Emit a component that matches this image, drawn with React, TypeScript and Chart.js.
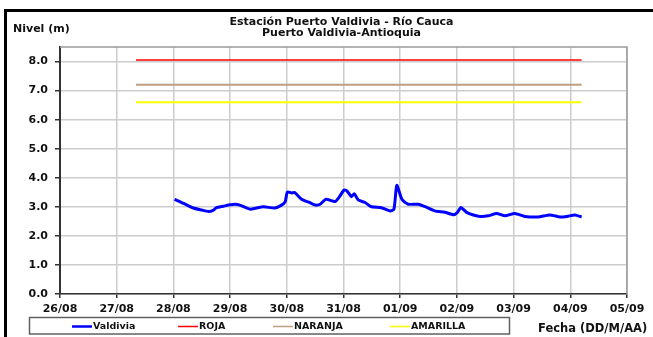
import React, { useEffect, useRef } from "react";
import { Chart, registerables } from "chart.js";

Chart.register(...registerables);

// ---- data ----
const titleLines = ["Estación Puerto Valdivia - Río Cauca", "Puerto Valdivia-Antioquia"];
const yAxisTitle = "Nivel (m)";
const xAxisTitle = "Fecha (DD/M/AA)";
const dateLabels = ["26/08", "27/08", "28/08", "29/08", "30/08", "31/08", "01/09", "02/09", "03/09", "04/09", "05/09"];

// days elapsed since 26/08 00:00
const valdiviaDays = [
  2.02, 2.18, 2.35, 2.5, 2.62, 2.7, 2.76, 2.88, 3.0, 3.09, 3.17, 3.35, 3.45, 3.59, 3.79, 3.9, 3.97, 4.01,
  4.08, 4.14, 4.26, 4.4, 4.5, 4.59, 4.69, 4.85, 4.93, 5.01, 5.06, 5.14, 5.19, 5.26, 5.38, 5.48, 5.67,
  5.82, 5.89, 5.94, 6.03, 6.14, 6.32, 6.47, 6.61, 6.79, 6.94, 7.01, 7.07, 7.17, 7.29, 7.41, 7.55, 7.7,
  7.85, 8.02, 8.2, 8.43, 8.64, 8.82, 8.94, 9.08, 9.2,
];
const valdiviaLevels = [
  3.26, 3.12, 2.96, 2.89, 2.84, 2.88, 2.97, 3.02, 3.07, 3.09, 3.06, 2.92, 2.95, 3.0, 2.96, 3.05, 3.17, 3.51,
  3.48, 3.49, 3.26, 3.15, 3.06, 3.09, 3.26, 3.18, 3.35, 3.58, 3.55, 3.35, 3.45, 3.24, 3.15, 3.01, 2.97,
  2.86, 2.92, 3.74, 3.26, 3.09, 3.09, 2.98, 2.86, 2.81, 2.73, 2.81, 2.98, 2.81, 2.72, 2.67, 2.69, 2.77,
  2.69, 2.77, 2.67, 2.65, 2.72, 2.65, 2.67, 2.72, 2.65,
];
const thresholdDays = [1.34, 9.2];
const rojaLevel = 8.05;
const naranjaLevel = 7.2;
const amarillaLevel = 6.6;
const yMin = 0;
const yMax = 8.5;
const yStep = 1;

const FONT = "'DejaVu Sans', sans-serif";

const decorPlugin = {
  id: "decor",
  beforeDraw(chart: any) {
    const ctx = chart.ctx;
    ctx.save();
    ctx.fillStyle = "#ffffff";
    ctx.fillRect(0, 0, chart.width, chart.height);
    ctx.restore();
  },
  beforeDatasetsDraw(chart: any) {
    const ctx = chart.ctx;
    const { left, right, top, bottom } = chart.chartArea;
    ctx.save();
    ctx.strokeStyle = "#9a9a9a";
    ctx.lineWidth = 1.5;
    ctx.beginPath();
    ctx.moveTo(left, top);
    ctx.lineTo(right, top);
    ctx.lineTo(right, bottom);
    ctx.stroke();
    ctx.restore();
  },
  afterDraw(chart: any) {
    const ctx = chart.ctx;
    const { left, right } = chart.chartArea;
    ctx.save();
    // outer frame
    ctx.fillStyle = "#000000";
    ctx.fillRect(4, 9, chart.width - 4, 3);
    ctx.fillRect(4, 9, 3, chart.height - 9);

    // title
    ctx.fillStyle = "#111111";
    ctx.textAlign = "center";
    ctx.textBaseline = "middle";
    ctx.font = `bold 11px ${FONT}`;
    const cx = (left + right) / 2 - 2;
    ctx.fillText(titleLines[0], cx, 22);
    ctx.fillText(titleLines[1], cx, 33);

    // axis titles
    ctx.textAlign = "left";
    ctx.font = `bold 11px ${FONT}`;
    ctx.fillText(yAxisTitle, 13, 29);
    ctx.font = `bold 11.5px ${FONT}`;
    ctx.fillText(xAxisTitle, 538, 329);

    // legend box
    ctx.strokeStyle = "#606060";
    ctx.lineWidth = 1.5;
    ctx.strokeRect(29.5, 317.5, 480, 16.5);
    const itemX = [72, 178, 273, 390];
    const ly = 326.5;
    ctx.font = `bold 9.5px ${FONT}`;
    chart.data.datasets.forEach((ds: any, i: number) => {
      ctx.strokeStyle = ds.borderColor;
      ctx.lineWidth = i === 0 ? 2.5 : 1.5;
      ctx.beginPath();
      ctx.moveTo(itemX[i], ly);
      ctx.lineTo(itemX[i] + 20, ly);
      ctx.stroke();
      ctx.fillStyle = "#111111";
      ctx.fillText(ds.label, itemX[i] + 21, ly + 0.5);
    });
    ctx.restore();
  },
};

export default function App() {
  const canvasRef = useRef<HTMLCanvasElement | null>(null);

  useEffect(() => {
    const canvas = canvasRef.current;
    if (!canvas) return;
    const pts = (xs: number[], ys: number[]) => xs.map((x, i) => ({ x, y: ys[i] }));
    const flat = (lvl: number) => thresholdDays.map((x) => ({ x, y: lvl }));

    const chart = new Chart(canvas, {
      type: "line",
      data: {
        datasets: [
          {
            label: "Valdivia",
            data: pts(valdiviaDays, valdiviaLevels),
            borderColor: "#0000ff",
            borderWidth: 3,
            pointRadius: 0,
            tension: 0.2,
            order: 0,
          },
          {
            label: "ROJA",
            data: flat(rojaLevel),
            borderColor: "#ff0000",
            borderWidth: 1.5,
            pointRadius: 0,
            order: 1,
          },
          {
            label: "NARANJA",
            data: flat(naranjaLevel),
            borderColor: "#bf9f80",
            borderWidth: 2,
            pointRadius: 0,
            order: 2,
          },
          {
            label: "AMARILLA",
            data: flat(amarillaLevel),
            borderColor: "#ffff00",
            borderWidth: 2,
            pointRadius: 0,
            order: 3,
          },
        ],
      },
      options: {
        animation: false,
        responsive: false,
        devicePixelRatio: 1,
        layout: { padding: { left: 0, top: 47, right: 26, bottom: 0 } },
        plugins: {
          legend: { display: false },
          title: { display: false },
          tooltip: { enabled: false },
        },
        scales: {
          x: {
            type: "linear",
            min: 0,
            max: dateLabels.length - 1,
            afterFit: (s: any) => {
              s.height = 43;
            },
            grid: { color: "#cccccc", lineWidth: 1.5, tickLength: 4, tickColor: "#333333" },
            border: { color: "#333333", width: 1.5 },
            ticks: {
              stepSize: 1,
              autoSkip: false,
              maxRotation: 0,
              includeBounds: false,
              padding: 5,
              color: "#111111",
              font: { family: FONT, size: 11, weight: "bold" },
              callback: (v: any) => dateLabels[Math.round(Number(v))] ?? "",
            },
          },
          y: {
            type: "linear",
            min: yMin,
            max: yMax,
            afterFit: (s: any) => {
              s.width = 60;
            },
            grid: { color: "#cccccc", lineWidth: 1.5, tickLength: 5, tickColor: "#333333" },
            border: { color: "#333333", width: 2 },
            ticks: {
              stepSize: yStep,
              includeBounds: false,
              padding: 7,
              color: "#111111",
              font: { family: FONT, size: 11, weight: "bold" },
              callback: (v: any) => Number(v).toFixed(1),
            },
          },
        },
      },
      plugins: [decorPlugin],
    });
    return () => chart.destroy();
  }, []);

  return (
    <div style={{ position: "fixed", left: 0, top: 0, width: 653, height: 337, background: "#fff" }}>
      <canvas ref={canvasRef} width={653} height={337} style={{ display: "block" }} />
    </div>
  );
}
